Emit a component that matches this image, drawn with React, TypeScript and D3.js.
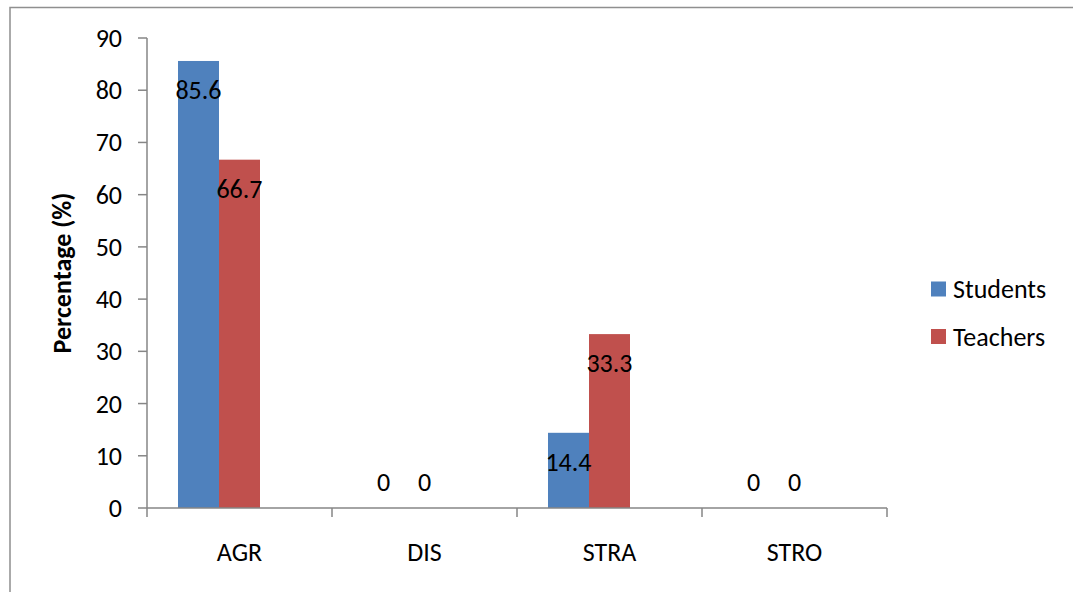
import React from "react";
import * as d3 from "d3";

// Response categories and the share of each group (%)
const categories = ["AGR", "DIS", "STRA", "STRO"];
const studentValues = [85.6, 0, 14.4, 0];
const teacherValues = [66.7, 0, 33.3, 0];
const seriesNames = ["Students", "Teachers"];
const seriesColors = ["#4F81BD", "#C0504D"];
const yTickValues = [0, 10, 20, 30, 40, 50, 60, 70, 80, 90];

const W = 1073;
const H = 592;
const FONT = "Carlito, Calibri, 'Open Sans', sans-serif";
const FS = 26;

export default function App() {
  const plot = { left: 147, right: 887, top: 38, bottom: 508 };
  const y = d3.scaleLinear().domain([0, 90]).range([plot.bottom, plot.top]);
  const x0 = d3.scaleBand<string>().domain(categories).range([plot.left, plot.right]).padding(0);
  // each category group keeps three bar slots; the two series fill the first two
  const x1 = d3
    .scaleBand<number>()
    .domain([0, 1, 2])
    .range([0, x0.bandwidth()])
    .paddingInner(0)
    .paddingOuter(0.756);

  const series = [studentValues, teacherValues];
  const edges = [...categories.map((c) => x0(c) as number), plot.right];
  const axisColor = "#868686";

  return (
    <div style={{ position: "fixed", left: 0, top: 0 }}>
      <svg width={W} height={H} style={{ display: "block", background: "#fff" }}>
        <rect x={10} y={7.5} width={1200} height={800} fill="none" stroke="#8f8f8f" strokeWidth={1.5} />

        {/* bars */}
        {categories.map((c, ci) =>
          series.map((vals, si) => {
            const v = vals[ci];
            const bx = (x0(c) as number) + (x1(si) as number);
            return (
              <rect
                key={`${c}-${si}`}
                x={bx}
                y={y(v)}
                width={x1.bandwidth()}
                height={y(0) - y(v)}
                fill={seriesColors[si]}
              />
            );
          })
        )}

        {/* y axis */}
        <line x1={plot.left} x2={plot.left} y1={plot.top} y2={plot.bottom} stroke={axisColor} strokeWidth={1.5} />
        {yTickValues.map((t) => (
          <g key={t}>
            <line x1={plot.left - 9} x2={plot.left} y1={y(t)} y2={y(t)} stroke={axisColor} strokeWidth={1.5} />
            <text
              x={plot.left - 25}
              y={y(t)}
              textAnchor="end"
              dominantBaseline="central"
              fontFamily={FONT}
              fontSize={FS}
              fill="#000"
            >
              {t}
            </text>
          </g>
        ))}

        {/* x axis */}
        <line x1={plot.left} x2={plot.right} y1={plot.bottom} y2={plot.bottom} stroke={axisColor} strokeWidth={1.5} />
        {edges.map((ex, i) => (
          <line key={i} x1={ex} x2={ex} y1={plot.bottom} y2={plot.bottom + 9} stroke={axisColor} strokeWidth={1.5} />
        ))}
        {categories.map((c) => (
          <text
            key={c}
            x={(x0(c) as number) + x0.bandwidth() / 2}
            y={552}
            textAnchor="middle"
            dominantBaseline="central"
            fontFamily={FONT}
            fontSize={FS}
            fill="#000"
          >
            {c}
          </text>
        ))}

        {/* value labels */}
        {categories.map((c, ci) =>
          series.map((vals, si) => {
            const v = vals[ci];
            const cx = (x0(c) as number) + (x1(si) as number) + x1.bandwidth() / 2;
            const cy = v > 0 ? y(v) + 29 : y(0) - 26;
            return (
              <text
                key={`l-${c}-${si}`}
                x={cx}
                y={cy}
                textAnchor="middle"
                dominantBaseline="central"
                fontFamily={FONT}
                fontSize={FS}
                fill="#000"
              >
                {v}
              </text>
            );
          })
        )}

        {/* y axis title */}
        <text
          transform={`translate(62, ${(plot.top + plot.bottom) / 2}) rotate(-90)`}
          textAnchor="middle"
          dominantBaseline="central"
          fontFamily={FONT}
          fontSize={26}
          fontWeight="bold"
          fill="#000"
        >
          Percentage (%)
        </text>

        {/* legend */}
        {seriesNames.map((name, i) => {
          const ly = 289 + i * 47.5;
          return (
            <g key={name}>
              <rect x={931} y={ly - 7.5} width={15} height={15} fill={seriesColors[i]} />
              <text x={953} y={ly} dominantBaseline="central" fontFamily={FONT} fontSize={FS} fill="#000">
                {name}
              </text>
            </g>
          );
        })}
      </svg>
    </div>
  );
}
